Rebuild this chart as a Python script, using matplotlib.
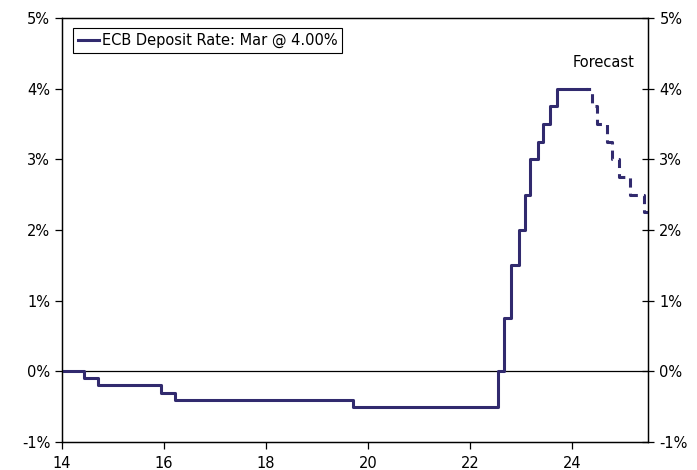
#!/usr/bin/env python3
# ecb_deposit_rate.py

import matplotlib
matplotlib.use("Agg")
import matplotlib.pyplot as plt
import numpy as np

# step start (year, 2-digit) and rate level in %
hist_x = [14.0, 14.44, 14.70, 15.95, 16.21, 19.71, 22.56, 22.68, 22.81,
          22.96, 23.08, 23.19, 23.34, 23.44, 23.57, 23.71, 24.27]
hist_y = [0.0, -0.1, -0.2, -0.3, -0.4, -0.5, 0.0, 0.75, 1.5,
          2.0, 2.5, 3.0, 3.25, 3.5, 3.75, 4.0, 4.0]

fc_x = [24.27, 24.40, 24.50, 24.69, 24.79, 24.92, 25.15, 25.41, 25.5]
fc_y = [4.0, 3.75, 3.5, 3.25, 3.0, 2.75, 2.5, 2.25, 2.25]

x_ticks = [14, 16, 18, 20, 22, 24]
y_ticks = [-1, 0, 1, 2, 3, 4, 5]

LINE = "#312a6e"


def plot(ax):
    ax.axhline(0, color="black", linewidth=0.9, zorder=1)
    ax.step(hist_x, hist_y, where="post", color=LINE, linewidth=2.2,
            label="ECB Deposit Rate: Mar @ 4.00%", zorder=3)
    ax.step(fc_x, fc_y, where="post", color=LINE, linewidth=2.2,
            linestyle=(1.5, (3, 2)), zorder=3)

    ax.set_xlim(14, 25.5)
    ax.set_ylim(-1, 5)
    ax.set_xticks(x_ticks)
    ax.set_xticklabels([str(t) for t in x_ticks])
    ax.set_yticks(y_ticks)
    ax.set_yticklabels([f"{t}%" for t in y_ticks])
    ax.tick_params(axis="x", direction="out", length=5, width=0.9, pad=5)
    ax.tick_params(axis="y", direction="out", length=5, width=0.9)

    ax2 = ax.twinx()
    ax2.set_ylim(-1, 5)
    ax2.set_yticks(y_ticks)
    ax2.set_yticklabels([f"{t}%" for t in y_ticks])
    ax2.tick_params(axis="y", direction="inout", length=8, width=0.9, pad=4)

    for a in (ax, ax2):
        for s in a.spines.values():
            s.set_linewidth(0.9)

    ax.text(24.62, 4.37, "Forecast", ha="center", va="center", fontsize=10.5)

    leg = ax.legend(loc="upper left", bbox_to_anchor=(0.019, 0.977),
                    borderaxespad=0, handlelength=1.4, handletextpad=0.2,
                    borderpad=0.35, fancybox=False, framealpha=1,
                    edgecolor="black", fontsize=10.5)
    leg.get_frame().set_linewidth(0.8)


def main():
    plt.rcParams["font.family"] = ["DejaVu Sans"]
    plt.rcParams["font.size"] = 10.5
    fig = plt.figure(figsize=(6.97, 4.70), dpi=100)
    ax = fig.add_axes([0.089, 0.0596, 0.841, 0.9021])
    plot(ax)
    fig.savefig("out.png", dpi=100)


if __name__ == "__main__":
    main()
